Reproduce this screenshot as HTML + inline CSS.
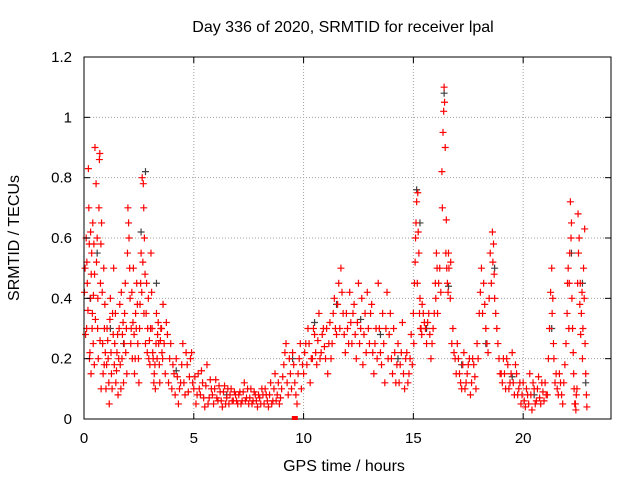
<!DOCTYPE html>
<html><head><meta charset="utf-8">
<style>
body{margin:0;background:#fff;}
svg{display:block;font-family:"Liberation Sans",sans-serif;}
</style></head>
<body>
<svg id="chart" width="640" height="480">
<rect width="640" height="480" fill="#fff"/>
<g id="grid"></g>
<g id="black"></g>
<g id="red"></g>
<g id="axes"></g>
<text x="343" y="32" text-anchor="middle" font-size="16">Day 336 of 2020, SRMTID for receiver lpal</text>
<text x="344" y="471" text-anchor="middle" font-size="16">GPS time / hours</text>
<text transform="translate(19,238) rotate(-90)" text-anchor="middle" font-size="16">SRMTID / TECUs</text>
</svg>
<script>
const xTicks=[0,5,10,15,20];
const yTicks=[0,0.2,0.4,0.6,0.8,1,1.2];
const yTickLabels=["0","0.2","0.4","0.6","0.8","1","1.2"];
const redPoints=[
[0.05,0.5],[0.1,0.6],[0.12,0.3],[0.15,0.45],[0.2,0.83],[0.22,0.7],[0.25,0.2],[0.28,0.4],[0.3,0.62],[0.32,0.15],[0.35,0.55],[0.38,0.35],[0.4,0.65],[0.42,0.25],[0.45,0.58],[0.48,0.48],
[0.5,0.9],[0.55,0.78],[0.6,0.6],[0.62,0.3],[0.65,0.2],[0.7,0.86],[0.72,0.88],[0.75,0.45],[0.78,0.1],[0.8,0.65],[0.85,0.25],[0.9,0.5],[0.92,0.18],[0.95,0.38],
[1.0,0.1],[1.05,0.3],[1.1,0.2],[1.15,0.05],[1.2,0.4],[1.25,0.15],[1.3,0.35],[1.35,0.5],[1.4,0.25],[1.45,0.12],[1.5,0.22],[1.55,0.08],[1.6,0.3],[1.65,0.18],[1.7,0.42],[1.75,0.28],[1.8,0.12],[1.85,0.35],[1.9,0.22],[1.95,0.15],
[2.0,0.7],[2.05,0.6],[2.1,0.4],[2.15,0.3],[2.2,0.2],[2.25,0.5],[2.3,0.15],[2.35,0.35],[2.4,0.45],[2.45,0.25],[2.5,0.12],[2.55,0.38],[2.6,0.55],[2.65,0.8],[2.7,0.78],[2.72,0.7],[2.75,0.6],[2.8,0.25],[2.85,0.45],[2.9,0.3],[2.95,0.2],
[3.0,0.18],[3.05,0.55],[3.1,0.3],[3.15,0.2],[3.2,0.15],[3.25,0.1],[3.3,0.35],[3.35,0.28],[3.4,0.25],[3.45,0.12],[3.5,0.3],[3.55,0.22],[3.6,0.38],[3.7,0.15],[3.8,0.28],[3.9,0.2],
[4.0,0.1],[4.1,0.15],[4.2,0.2],[4.3,0.05],[4.4,0.12],[4.5,0.25],[4.6,0.08],[4.7,0.18],[4.8,0.14],[4.9,0.22],
[5.0,0.1],[5.1,0.05],[5.2,0.15],[5.3,0.08],[5.4,0.12],[5.5,0.04],[5.6,0.18],[5.7,0.07],[5.8,0.1],[5.9,0.05],[6.0,0.13],[6.1,0.06],[6.2,0.09],[6.3,0.04],[6.4,0.11],[6.5,0.07],[6.6,0.05],[6.7,0.1],[6.8,0.06],[6.9,0.08],
[7.0,0.05],[7.1,0.09],[7.2,0.06],[7.3,0.12],[7.4,0.07],[7.5,0.05],[7.6,0.1],[7.7,0.06],[7.8,0.08],[7.9,0.04],[8.0,0.07],[8.1,0.1],[8.2,0.05],[8.3,0.08],[8.4,0.04],[8.5,0.12],[8.6,0.06],[8.7,0.15],[8.8,0.08],[8.9,0.05],
[9.0,0.1],[9.1,0.18],[9.2,0.25],[9.3,0.08],[9.4,0.15],[9.5,0.22],[9.6,0.12],[9.7,0.05],[9.8,0.2],[9.9,0.1],
[10.0,0.15],[10.1,0.25],[10.2,0.3],[10.3,0.12],[10.4,0.2],[10.5,0.28],[10.6,0.18],[10.7,0.35],[10.8,0.22],[10.9,0.3],[11.0,0.2],[11.1,0.15],[11.2,0.32],[11.3,0.25],[11.4,0.4],[11.5,0.28],[11.6,0.45],[11.7,0.5],[11.8,0.35],[11.9,0.22],
[12.0,0.3],[12.1,0.42],[12.2,0.25],[12.3,0.38],[12.4,0.2],[12.5,0.45],[12.6,0.3],[12.7,0.18],[12.8,0.35],[12.9,0.42],[13.0,0.25],[13.1,0.38],[13.2,0.15],[13.3,0.3],[13.4,0.45],[13.5,0.22],[13.6,0.35],[13.7,0.12],[13.8,0.42],[13.9,0.28],
[14.0,0.2],[14.1,0.3],[14.2,0.12],[14.3,0.25],[14.4,0.18],[14.5,0.32],[14.6,0.1],[14.7,0.22],[14.8,0.15],[14.9,0.28],
[15.0,0.35],[15.05,0.45],[15.1,0.6],[15.15,0.72],[15.2,0.75],[15.25,0.55],[15.3,0.4],[15.35,0.3],[15.4,0.38],[15.5,0.32],[15.6,0.25],[15.7,0.35],[15.8,0.2],[15.9,0.3],
[16.0,0.45],[16.05,0.55],[16.1,0.35],[16.2,0.5],[16.3,0.82],[16.35,0.95],[16.4,1.1],[16.42,1.05],[16.45,0.9],[16.5,0.66],[16.55,0.45],[16.6,0.55],[16.7,0.52],[16.8,0.3],[16.9,0.2],
[17.0,0.25],[17.1,0.15],[17.2,0.1],[17.3,0.22],[17.4,0.12],[17.5,0.18],[17.6,0.08],[17.7,0.2],[17.8,0.14],[17.9,0.25],
[18.0,0.35],[18.1,0.5],[18.2,0.45],[18.3,0.3],[18.4,0.22],[18.5,0.55],[18.6,0.62],[18.65,0.58],[18.7,0.4],[18.8,0.3],[18.9,0.2],
[19.0,0.15],[19.1,0.2],[19.2,0.1],[19.3,0.18],[19.4,0.12],[19.5,0.22],[19.6,0.08],[19.7,0.15],[19.8,0.1],[19.9,0.05],
[20.0,0.12],[20.1,0.04],[20.2,0.08],[20.3,0.15],[20.4,0.03],[20.5,0.1],[20.6,0.06],[20.7,0.14],[20.8,0.05],[20.9,0.09],
[21.0,0.12],[21.1,0.08],[21.2,0.3],[21.3,0.5],[21.35,0.4],[21.4,0.2],[21.5,0.15],[21.6,0.08],[21.7,0.12],[21.8,0.05],[21.9,0.18],
[22.0,0.35],[22.05,0.5],[22.1,0.45],[22.15,0.72],[22.2,0.65],[22.25,0.3],[22.3,0.15],[22.35,0.05],[22.4,0.03],[22.45,0.1],[22.5,0.68],[22.55,0.6],[22.6,0.45],[22.65,0.35],[22.7,0.2],[22.75,0.5],[22.8,0.63],[22.85,0.15],[22.9,0.04]
];
const redPointsExtra=[
[0.02,0.42],[0.07,0.28],[0.13,0.52],[0.18,0.36],[0.24,0.58],[0.27,0.22],[0.33,0.48],[0.37,0.3],[0.43,0.41],[0.47,0.18],[0.52,0.33],[0.57,0.52],[0.63,0.4],[0.68,0.7],[0.73,0.26],[0.77,0.58],[0.83,0.42],[0.87,0.15],[0.93,0.3],[0.97,0.22],
[1.03,0.18],[1.08,0.26],[1.13,0.12],[1.18,0.33],[1.23,0.22],[1.28,0.1],[1.33,0.28],[1.38,0.18],[1.43,0.35],[1.48,0.16],[1.53,0.28],[1.58,0.2],[1.63,0.38],[1.68,0.1],[1.73,0.2],[1.78,0.32],[1.83,0.25],[1.88,0.45],[1.93,0.3],[1.98,0.55],
[2.03,0.65],[2.08,0.5],[2.13,0.25],[2.18,0.42],[2.23,0.32],[2.28,0.28],[2.33,0.2],[2.38,0.3],[2.43,0.38],[2.48,0.2],[2.53,0.3],[2.58,0.45],[2.63,0.42],[2.68,0.52],[2.73,0.35],[2.78,0.48],[2.83,0.35],[2.88,0.22],[2.93,0.4],[2.98,0.26],
[3.03,0.3],[3.08,0.42],[3.13,0.22],[3.18,0.12],[3.23,0.18],[3.28,0.25],[3.33,0.2],[3.38,0.32],[3.43,0.18],[3.48,0.26],[3.53,0.3],[3.58,0.2],[3.65,0.25],[3.75,0.32],[3.85,0.12],[3.95,0.25],
[4.05,0.18],[4.15,0.08],[4.25,0.14],[4.35,0.1],[4.45,0.18],[4.55,0.12],[4.65,0.22],[4.75,0.09],[4.85,0.2],[4.95,0.12],
[5.05,0.14],[5.15,0.08],[5.25,0.1],[5.35,0.16],[5.45,0.07],[5.55,0.11],[5.65,0.05],[5.75,0.13],[5.85,0.08],[5.95,0.1],[6.05,0.07],[6.15,0.11],[6.25,0.06],[6.35,0.09],[6.45,0.05],[6.55,0.1],[6.65,0.08],[6.75,0.06],[6.85,0.09],[6.95,0.06],
[7.05,0.08],[7.15,0.05],[7.25,0.09],[7.35,0.06],[7.45,0.1],[7.55,0.07],[7.65,0.05],[7.75,0.09],[7.85,0.06],[7.95,0.08],[8.05,0.05],[8.15,0.08],[8.25,0.1],[8.35,0.06],[8.45,0.08],[8.55,0.05],[8.65,0.1],[8.75,0.06],[8.85,0.12],[8.95,0.07],
[9.05,0.14],[9.15,0.22],[9.25,0.12],[9.35,0.2],[9.45,0.1],[9.55,0.18],[9.65,0.08],[9.75,0.15],[9.85,0.25],[9.95,0.18],
[10.05,0.22],[10.15,0.18],[10.25,0.25],[10.35,0.2],[10.45,0.3],[10.55,0.22],[10.65,0.26],[10.75,0.2],[10.85,0.28],[10.95,0.24],[11.05,0.3],[11.15,0.25],[11.25,0.2],[11.35,0.35],[11.45,0.3],[11.55,0.38],[11.65,0.3],[11.75,0.42],[11.85,0.28],[11.95,0.35],
[12.05,0.25],[12.15,0.32],[12.25,0.35],[12.35,0.28],[12.45,0.32],[12.55,0.25],[12.65,0.4],[12.75,0.28],[12.85,0.22],[12.95,0.3],[13.05,0.35],[13.15,0.22],[13.25,0.25],[13.35,0.2],[13.45,0.3],[13.55,0.18],[13.65,0.25],[13.75,0.3],[13.85,0.2],[13.95,0.35],
[14.05,0.15],[14.15,0.22],[14.25,0.18],[14.35,0.12],[14.45,0.22],[14.55,0.15],[14.65,0.2],[14.75,0.12],[14.85,0.2],[14.95,0.18],
[15.02,0.25],[15.08,0.52],[15.12,0.65],[15.18,0.45],[15.22,0.62],[15.28,0.35],[15.32,0.3],[15.38,0.28],[15.45,0.35],[15.55,0.3],[15.65,0.32],[15.75,0.28],[15.85,0.25],[15.95,0.35],
[16.02,0.4],[16.08,0.5],[16.15,0.45],[16.25,0.42],[16.32,0.7],[16.38,1.02],[16.48,0.55],[16.52,0.5],[16.58,0.42],[16.62,0.5],[16.68,0.4],[16.75,0.25],[16.85,0.22],[16.95,0.15],
[17.05,0.2],[17.15,0.12],[17.25,0.18],[17.35,0.1],[17.45,0.15],[17.55,0.2],[17.65,0.12],[17.75,0.18],[17.85,0.1],[17.95,0.2],
[18.05,0.42],[18.15,0.35],[18.25,0.38],[18.35,0.25],[18.45,0.4],[18.55,0.45],[18.62,0.52],[18.68,0.48],[18.75,0.35],[18.85,0.25],[18.95,0.15],
[19.05,0.12],[19.15,0.15],[19.25,0.2],[19.35,0.1],[19.45,0.15],[19.55,0.12],[19.65,0.18],[19.75,0.08],[19.85,0.12],[19.95,0.08],
[20.05,0.06],[20.15,0.1],[20.25,0.05],[20.35,0.08],[20.45,0.12],[20.55,0.05],[20.65,0.1],[20.75,0.07],[20.85,0.12],[20.95,0.06],
[21.05,0.08],[21.15,0.2],[21.25,0.42],[21.32,0.35],[21.38,0.25],[21.45,0.12],[21.55,0.1],[21.65,0.15],[21.75,0.08],[21.85,0.12],[21.95,0.25],
[22.02,0.45],[22.08,0.3],[22.12,0.55],[22.18,0.6],[22.22,0.4],[22.28,0.22],[22.32,0.1],[22.38,0.05],[22.42,0.08],[22.48,0.45],[22.52,0.55],[22.58,0.38],[22.62,0.28],[22.68,0.42],[22.72,0.3],[22.78,0.4],[22.82,0.25],[22.88,0.08]
];
const blackPoints=[
[0.3,0.4],[0.6,0.55],[1.2,0.3],[1.8,0.25],[2.6,0.62],[2.8,0.82],[3.3,0.45],[4.2,0.16],[6.5,0.08],[9.5,0.2],[10.5,0.32],[11.5,0.38],[12.6,0.33],[13.5,0.28],[14.3,0.2],[15.15,0.76],[15.3,0.65],[15.6,0.3],[16.4,1.08],[16.6,0.44],[17.2,0.18],[18.3,0.25],[18.7,0.5],[19.5,0.14],[20.5,0.08],[21.3,0.3],[22.2,0.55],[22.7,0.45],[22.85,0.12]
];
const NS='http://www.w3.org/2000/svg';
const L=84,R=611,T=57,B=419;
function xs(t){return L+(t/24)*(R-L);}
function ys(v){return B-(v/1.2)*(B-T);}
function mk(tag,a,p){const e=document.createElementNS(NS,tag);for(const k in a)e.setAttribute(k,a[k]);p.appendChild(e);return e;}
const grid=document.getElementById('grid'),axes=document.getElementById('axes');
xTicks.forEach((t,i)=>{
  const x=xs(t);
  if(i>0){const g=mk('line',{x1:x,y1:T,x2:x,y2:B,stroke:'#a0a0a0','stroke-dasharray':'1,2'},grid);
  
  }
  mk('line',{x1:x,y1:B,x2:x,y2:B-6,stroke:'#000'},axes);
  mk('line',{x1:x,y1:T,x2:x,y2:T+6,stroke:'#000'},axes);
  const tx=mk('text',{x:x,y:B+24,'text-anchor':'middle','font-size':'15'},axes);tx.textContent=String(t);
  
  
});
yTicks.forEach((v,i)=>{
  const y=ys(v);
  if(i>0&&i<yTicks.length-1){const g=mk('line',{x1:L,y1:y,x2:R,y2:y,stroke:'#a0a0a0','stroke-dasharray':'1,2'},grid);
  
  }
  mk('line',{x1:L,y1:y,x2:L+6,y2:y,stroke:'#000'},axes);
  mk('line',{x1:R,y1:y,x2:R-6,y2:y,stroke:'#000'},axes);
  const tx=mk('text',{x:L-12,y:y+5,'text-anchor':'end','font-size':'15'},axes);tx.textContent=yTickLabels[i];
  
  
});
const fr=mk('rect',{x:L,y:T,width:R-L,height:B-T,fill:'none',stroke:'#000'},axes);


function plus(pts,color,g,name){
  let d='';
  pts.forEach(p=>{const x=xs(p[0]),y=ys(p[1]);d+=`M${x-3.5},${y}h7M${x},${y-3.5}v7`;});
  const e=mk('path',{d:d,stroke:color,'stroke-width':'1.2',fill:'none'},g);
  
  
}
plus(blackPoints,'#404040',document.getElementById('black'),'black-markers');
plus(redPoints,'#ff0000',document.getElementById('red'),'red-markers');
plus(redPointsExtra,'#ff0000',document.getElementById('red'),'red-markers-extra');
const sq=mk('rect',{x:xs(9.6)-3,y:B-3,width:6,height:4,fill:'#ff0000'},axes);


</script>
</body></html>
